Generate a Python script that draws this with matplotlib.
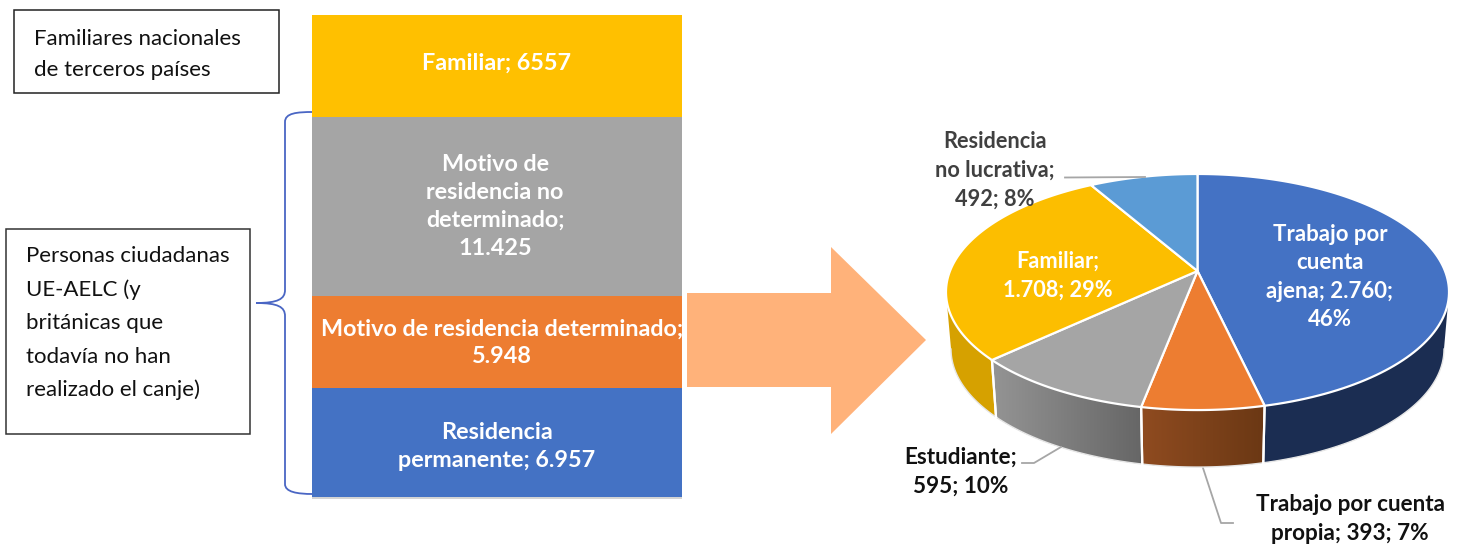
import numpy as np
import matplotlib
matplotlib.use('Agg')
import matplotlib.pyplot as plt
from matplotlib.patches import Rectangle, Polygon
from matplotlib.path import Path
from matplotlib.patches import PathPatch

plt.rcParams['font.family'] = ['Lato', 'DejaVu Sans']

# stacked column, bottom to top
bar_values = [6957, 5948, 11425, 6557]
bar_labels = ['Residencia\npermanente; 6.957',
              'Motivo de residencia determinado;\n5.948',
              'Motivo de\nresidencia no\ndeterminado;\n11.425',
              'Familiar; 6557']
bar_colors = ['#4472C4', '#ED7D31', '#A5A5A5', '#FFC000']

# pie, clockwise from the top
pie_values = [2760, 393, 595, 1708, 492]
pie_colors = ['#4472C4', '#ED7D31', '#A5A5A5', '#FCBE00', '#5B9BD5']
side_left = ['#1B2D52', '#8F4B20', '#949494', '#D6A100', '#5B9BD5']
side_right = ['#1B2D52', '#6B3814', '#666666', '#D6A100', '#5B9BD5']

box1_text = 'Familiares nacionales\nde terceros países'
box2_lines = ['Personas ciudadanas', 'UE-AELC (y', 'británicas que', 'todavía no han', 'realizado el canje)']

W, H = 1462, 547
fig = plt.figure(figsize=(W / 100, H / 100), dpi=100)
ax = fig.add_axes([0, 0, 1, 1])
ax.set_xlim(0, W)
ax.set_ylim(H, 0)
ax.axis('off')

# column gets its own axes so heights come from the values
bx = fig.add_axes([312 / W, 1 - 497 / H, 370 / W, 482 / H])
bx.set_xlim(-0.5, 0.5)
bx.set_ylim(0, sum(bar_values))
bx.axis('off')
bottom = 0
ax.add_patch(Rectangle((312, 496), 370, 3, fc='#D4D4D4', ec='none'))
# small nudges (x in axes units, y in px) to sit where the reference labels sit
label_fixes = [(0, -4), (0.0135, -1), (-0.005, 0), (0, 3)]
for v, lab, c, fix in zip(bar_values, bar_labels, bar_colors, label_fixes):
    bx.bar(0, v, bottom=bottom, width=1, color=c, linewidth=0)
    bx.annotate(lab, (fix[0], bottom + v / 2), xytext=(0, fix[1] * 0.72), textcoords='offset points',
                color='white', fontweight='bold', fontsize=16.8,
                ha='center', va='center', linespacing=1.4, annotation_clip=False)
    bottom += v

# text boxes
ax.add_patch(Rectangle((13.5, 9.5), 265.5, 83, fc='white', ec='#222222', lw=1.1))
ax.text(34, 54.5, box1_text, fontsize=16, color='#111111', va='center', ha='left', linespacing=1.68)
ax.add_patch(Rectangle((6, 228.5), 244, 205.5, fc='white', ec='#333333', lw=1.1))
for i, line in enumerate(box2_lines):
    ax.text(26, 262 + i * 33.6, line, fontsize=16, color='#111111', va='baseline', ha='left')

# curly brace
brace = Path([(313, 112), (297, 112), (285, 113), (285, 122),
              (285, 290), (285, 299), (278, 303), (256, 303),
              (278, 303), (285, 307), (285, 316),
              (285, 484), (285, 492), (297, 494), (313, 494)],
             [Path.MOVETO, Path.CURVE4, Path.CURVE4, Path.CURVE4,
              Path.LINETO, Path.CURVE4, Path.CURVE4, Path.CURVE4,
              Path.CURVE4, Path.CURVE4, Path.CURVE4,
              Path.LINETO, Path.CURVE4, Path.CURVE4, Path.CURVE4])
ax.add_patch(PathPatch(brace, fc='none', ec='#4A66C4', lw=1.3))

# block arrow
ax.add_patch(Polygon([(687, 293), (831, 293), (831, 247), (926, 340),
                      (831, 434), (831, 387), (687, 387)], closed=True, fc='#FFB27A', ec='none'))

# pie, projected as a tilted disc
cx, ay = 1197.5, 271
rx, ry, k = 247.5, 114.3, 0.178
depth = 57
shrink = 0.98


def rim(theta):
    theta = np.radians(theta)
    d = 1 + k * np.cos(theta)
    return cx + rx * np.sin(theta) / d, ay - ry * np.cos(theta) / d


edges = np.concatenate([[0], np.cumsum(pie_values) / sum(pie_values) * 360])
vis_a = np.degrees(np.arccos(-k))
vis_b = 360 - vis_a

for i in range(len(pie_values)):
    a0, a1 = max(edges[i], vis_a), min(edges[i + 1], vis_b)
    if a1 <= a0:
        continue
    t = np.linspace(a0, a1, 80)
    x, y = rim(t)
    xb = cx + (x - cx) * shrink
    yb = y + depth
    pts = np.column_stack([np.r_[x, xb[::-1]], np.r_[y, yb[::-1]]])
    poly = Polygon(pts, closed=True, fc=side_left[i], ec='none', zorder=2)
    ax.add_patch(poly)
    if side_left[i] != side_right[i]:
        c0 = np.array(matplotlib.colors.to_rgb(side_left[i]))
        c1 = np.array(matplotlib.colors.to_rgb(side_right[i]))
        ramp = np.linspace(0, 1, 120)[None, :, None]
        img = c0[None, None, :] * (1 - ramp) + c1[None, None, :] * ramp
        im = ax.imshow(img, extent=(pts[:, 0].min(), pts[:, 0].max(), pts[:, 1].max(), pts[:, 1].min()),
                       aspect='auto', zorder=2.1)
        im.set_clip_path(poly)
    ax.plot(xb, yb, color='#E6E6E6', lw=1.0, zorder=2.2)
    for a in (a0, a1):
        if vis_a < a < vis_b:
            xe, ye = rim(a)
            ax.plot([xe, cx + (xe - cx) * shrink], [ye, ye + depth], color='white', lw=1.6, zorder=2.3)

ax.set_xlim(0, W)
ax.set_ylim(H, 0)

for i, c in enumerate(pie_colors):
    t = np.linspace(edges[i], edges[i + 1], 120)
    x, y = rim(t)
    ax.add_patch(Polygon(np.column_stack([np.r_[cx, x], np.r_[ay, y]]), closed=True,
                         fc=c, ec='white', lw=1.6, joinstyle='round', zorder=3))

# leader lines
leader = '#A6A6A6'
ax.plot([1065, 1145], [177.5, 177], color=leader, lw=1.3, zorder=4)
ax.plot([1022, 1034, 1061], [463, 463, 447], color=leader, lw=1.3, zorder=4)
ax.plot([1203, 1221, 1233], [468, 523, 523], color=leader, lw=1.3, zorder=1)

# pie labels
pie_text = dict(fontweight='bold', ha='center', va='center', zorder=5)
ax.text(995, 170.5, 'Residencia\nno lucrativa;\n492; 8%', color='#404040', fontsize=15.7, linespacing=1.48, **pie_text)
ax.text(1058, 275.5, 'Familiar;\n1.708; 29%', color='white', fontsize=15.7, linespacing=1.48, **pie_text)
ax.text(1330, 277, 'Trabajo por\ncuenta\najena; 2.760;\n46%', color='white', fontsize=16, linespacing=1.45, **pie_text)
ax.text(961, 471.5, 'Estudiante;\n595; 10%', color='#111111', fontsize=16.2, linespacing=1.44, **pie_text)
ax.text(1350, 519, 'Trabajo por cuenta\npropia; 393; 7%', color='#111111', fontsize=16.2, linespacing=1.44, **pie_text)

fig.savefig('out.png', dpi=100)
